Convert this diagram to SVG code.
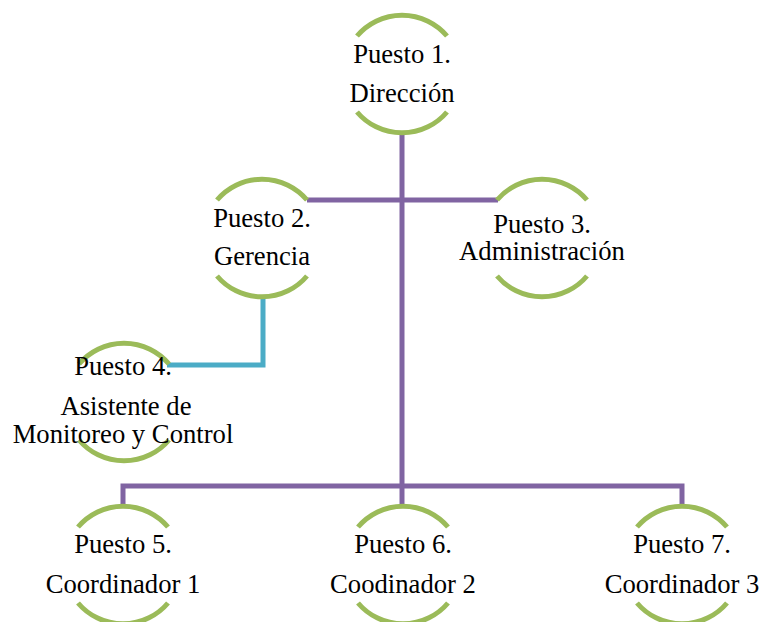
<svg xmlns="http://www.w3.org/2000/svg" width="760" height="622" viewBox="0 0 760 622">
<style>
.arc{fill:none;stroke:#9BBB59;stroke-width:5}
.lbl{font-family:"Liberation Serif","Times New Roman",serif;font-size:26.67px;fill:#000;text-anchor:middle}
.main{fill:none;stroke:#8064A2;stroke-width:5;stroke-linejoin:miter}
.asst{fill:none;stroke:#4BACC6;stroke-width:5}
</style>
<defs>
<path id="ring" d="M-45,-38 A59,59 0 0 1 45,-38 M-45,38 A59,59 0 0 0 45,38"/>
</defs>
<rect width="760" height="622" fill="#fff"/>
<g id="connectors">
<path class="main" d="M402,133 V486"/>
<path class="main" d="M307,200 H498"/>
<path class="main" d="M123,507 V486 H682 V507"/>
<path class="main" d="M402,486 V507"/>
<path class="asst" d="M263,296 V365 H167"/>
</g>
<g id="node1">
<use href="#ring" class="arc" x="402" y="74"/>
<text class="lbl" x="402" y="63">Puesto 1.</text>
<text class="lbl" x="402" y="102">Dirección</text>
</g>
<g id="node2">
<use href="#ring" class="arc" x="262" y="238"/>
<text class="lbl" x="262" y="227">Puesto 2.</text>
<text class="lbl" x="262" y="265">Gerencia</text>
</g>
<g id="node3">
<use href="#ring" class="arc" x="542" y="238"/>
<text class="lbl" x="542" y="233">Puesto 3.</text>
<text class="lbl" x="542" y="260">Administración</text>
</g>
<g id="node4">
<use href="#ring" class="arc" x="124" y="402"/>
<text class="lbl" x="123" y="375">Puesto 4.</text>
<text class="lbl" x="126" y="415">Asistente de</text>
<text class="lbl" x="123" y="443">Monitoreo y Control</text>
</g>
<g id="node5">
<use href="#ring" class="arc" x="123" y="565"/>
<text class="lbl" x="123" y="553">Puesto 5.</text>
<text class="lbl" x="123" y="593">Coordinador 1</text>
</g>
<g id="node6">
<use href="#ring" class="arc" x="403" y="565"/>
<text class="lbl" x="403" y="553">Puesto 6.</text>
<text class="lbl" x="403" y="593">Coodinador 2</text>
</g>
<g id="node7">
<use href="#ring" class="arc" x="682" y="565"/>
<text class="lbl" x="682" y="553">Puesto 7.</text>
<text class="lbl" x="682" y="593">Coordinador 3</text>
</g>
</svg>
